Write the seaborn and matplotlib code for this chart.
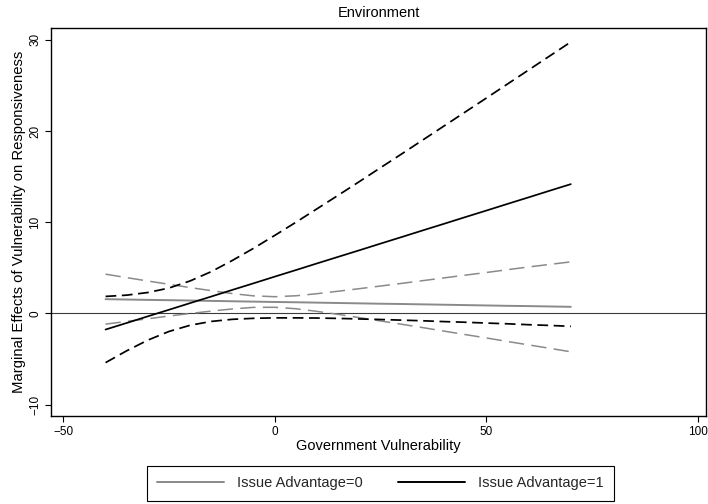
import matplotlib
matplotlib.use("Agg")
import matplotlib.pyplot as plt
import seaborn as sns
import pandas as pd
from matplotlib.lines import Line2D

# ---- data ----
vulnerability = [-40, -35, -30, -25, -20, -15, -10, -5, 0, 5, 10, 15, 20,
                 25, 30, 35, 40, 45, 50, 55, 60, 65, 70]

adv0_effect = [1.57, 1.53, 1.49, 1.46, 1.42, 1.38, 1.34, 1.30, 1.26, 1.23, 1.19, 1.15,
               1.11, 1.07, 1.04, 1.00, 0.96, 0.92, 0.88, 0.84, 0.81, 0.77, 0.73]
adv0_upper = [4.31, 3.93, 3.56, 3.20, 2.84, 2.50, 2.18, 1.93, 1.84, 1.94, 2.17, 2.44,
              2.72, 3.01, 3.30, 3.60, 3.90, 4.20, 4.49, 4.80, 5.10, 5.38, 5.66]
adv0_lower = [-1.17, -0.87, -0.58, -0.28, 0.00, 0.26, 0.50, 0.67, 0.68, 0.52, 0.23, -0.10,
              -0.45, -0.82, -1.18, -1.55, -1.93, -2.31, -2.68, -3.07, -3.44, -3.82, -4.20]

adv1_effect = [-1.76, -1.04, -0.31, 0.41, 1.14, 1.86, 2.59, 3.31, 4.04, 4.76, 5.49, 6.21,
               6.93, 7.66, 8.38, 9.11, 9.83, 10.56, 11.28, 12.01, 12.73, 13.46, 14.18]
adv1_upper = [1.87, 2.01, 2.30, 2.79, 3.57, 4.59, 5.82, 7.15, 8.56, 10.00, 11.48, 12.96,
              14.46, 15.98, 17.49, 19.02, 20.55, 22.08, 23.61, 25.15, 26.69, 28.23, 29.77]
adv1_lower = [-5.39, -4.09, -2.92, -1.97, -1.29, -0.87, -0.64, -0.53, -0.48, -0.48, -0.50, -0.54,
              -0.60, -0.66, -0.73, -0.80, -0.89, -0.96, -1.05, -1.13, -1.23, -1.31, -1.41]

x_ticks = [-50, 0, 50, 100]
x_tick_labels = ["\u221250", "0", "50", "100"]
y_ticks = [-10, 0, 10, 20, 30]
y_tick_labels = ["\u221210", "0", "10", "20", "30"]
legend_labels = ["Issue Advantage=0", "Issue Advantage=1"]
title = "Environment"
x_label = "Government Vulnerability"
y_label = "Marginal Effects of Vulnerability on Responsiveness"

# ---- styling ----
sns.set_theme(style="white")
plt.rcParams['font.family'] = ['Liberation Sans', 'DejaVu Sans']

GRAY = "#8a8a8a"
BLACK = "#000000"

fig = plt.figure(figsize=(7.08, 5.04), dpi=100)
ax = fig.add_axes([51 / 708, 88 / 504, 655 / 708, 388 / 504])

ax.axhline(0, color="#3c3c3c", lw=0.8, zorder=1)

series = [
    (adv0_upper, GRAY, 1.1, (10, 4.8)),
    (adv0_lower, GRAY, 1.1, (10, 4.8)),
    (adv0_effect, GRAY, 1.4, None),
    (adv1_upper, BLACK, 1.25, (6.2, 3.2)),
    (adv1_lower, BLACK, 1.25, (6.2, 3.2)),
    (adv1_effect, BLACK, 1.25, None),
]
for vals, col, lw, dash in series:
    df = pd.DataFrame({"x": vulnerability, "y": vals})
    sns.lineplot(data=df, x="x", y="y", ax=ax, color=col, linewidth=lw,
                 estimator=None, sort=False, legend=False, zorder=3)
    if dash is not None:
        ax.lines[-1].set_linestyle((0, dash))

ax.set_xlim(-52.9, 101.96)
ax.set_ylim(-11.24, 31.3)
ax.set_xticks(x_ticks)
ax.set_xticklabels(x_tick_labels)
ax.set_yticks(y_ticks)
ax.set_yticklabels(y_tick_labels, rotation=90, va="center")

for sp in ax.spines.values():
    sp.set_visible(True)
    sp.set_color("black")
    sp.set_linewidth(1.0)

ax.tick_params(axis="both", direction="out", length=4.5, width=0.8,
               colors="black", labelsize=8.5, pad=2.5, bottom=True, left=True)

ax.set_title(title, fontsize=10.5, pad=8, color="black")
ax.set_xlabel(x_label, fontsize=10.5, labelpad=1.0, color="black")
ax.set_ylabel(y_label, fontsize=10.7, labelpad=2.5, color="black")

handles = [Line2D([], [], color=GRAY, lw=1.4), Line2D([], [], color=BLACK, lw=1.4)]
leg = fig.legend(handles, legend_labels, ncol=2, loc="center",
                 bbox_to_anchor=(380.5 / 708, 1 - 483.5 / 504),
                 frameon=True, fancybox=False, edgecolor="black", framealpha=1,
                 fontsize=10.5, handlelength=4.6, handletextpad=0.9,
                 columnspacing=2.4, borderpad=0.7)
leg.get_frame().set_linewidth(0.8)

fig.savefig("out.png", dpi=100)
